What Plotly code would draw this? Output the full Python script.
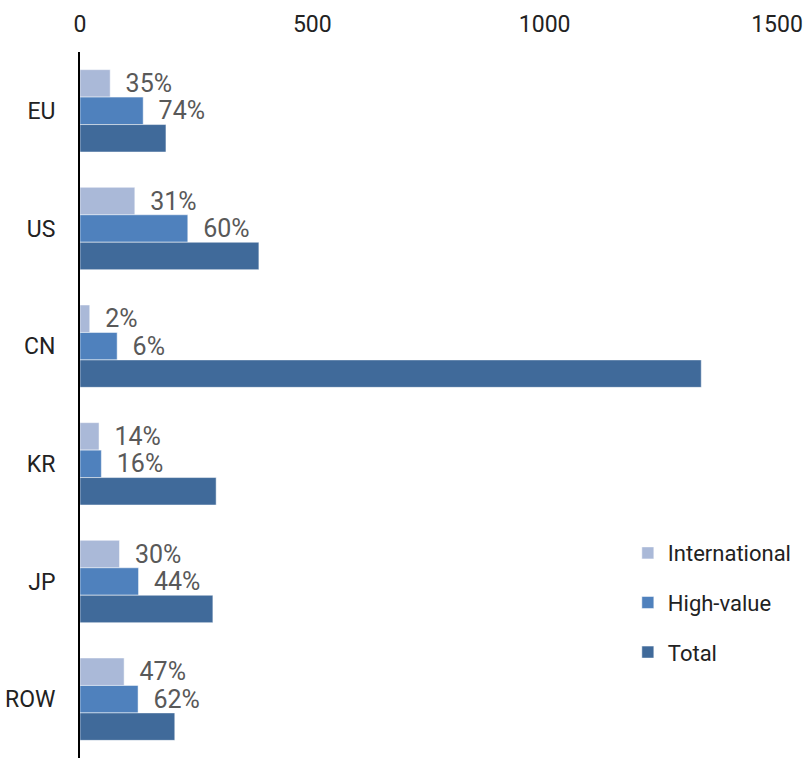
import plotly.graph_objects as go

categories = ["EU", "US", "CN", "KR", "JP", "ROW"]
international = [65, 118, 21, 41, 85, 95]
high_value = [136, 232, 80, 46, 126, 125]
total = [185, 385, 1337, 293, 286, 204]
intl_labels = ["35%", "31%", "2%", "14%", "30%", "47%"]
hv_labels = ["74%", "60%", "6%", "16%", "44%", "62%"]
x_ticks = [0, 500, 1000, 1500]

FONT = "Roboto, Arial, sans-serif"
pad = "\u00a0\u00a0"

fig = go.Figure()
fig.add_trace(go.Bar(
    y=categories, x=international, name="International", orientation="h",
    marker=dict(color="#AAB9D8", line=dict(color="white", width=0.5)),
    text=[pad + t for t in intl_labels], textposition="outside",
    textfont=dict(size=25, color="#595959", family=FONT),
    constraintext="none", cliponaxis=False, legendgroup="a",
))
fig.add_trace(go.Bar(
    y=categories, x=high_value, name="High-value", orientation="h",
    marker=dict(color="#4F81BD", line=dict(color="white", width=0.5)),
    text=[pad + t for t in hv_labels], textposition="outside",
    textfont=dict(size=25, color="#595959", family=FONT),
    constraintext="none", cliponaxis=False, legendgroup="b",
))
fig.add_trace(go.Bar(
    y=categories, x=total, name="Total", orientation="h",
    marker=dict(color="#406A9A", line=dict(color="white", width=0.5)),
    legendgroup="c",
))

fig.update_layout(
    width=807, height=758,
    margin=dict(l=80, r=30, t=52, b=0),
    barmode="group", bargap=0.3, bargroupgap=0,
    plot_bgcolor="white", paper_bgcolor="white",
    font=dict(family=FONT, size=23, color="#222222"),
    legend=dict(x=0.786, y=0.32, xanchor="left", yanchor="top",
                font=dict(size=22, color="#222222"),
                tracegroupgap=18, traceorder="grouped",
                bgcolor="rgba(0,0,0,0)"),
    xaxis=dict(range=[0, 1500], side="top", tickvals=x_ticks,
               showgrid=False, zeroline=False, showline=False,
               ticks="", ticklabelstandoff=14, automargin=False,
               tickfont=dict(size=23, color="#222222")),
    yaxis=dict(autorange="reversed", showgrid=False, zeroline=False,
               showline=True, linecolor="black", linewidth=2,
               ticks="", ticklabelstandoff=18, automargin=False,
               tickfont=dict(size=23, color="#222222")),
)

fig.write_html("out.html",
               config={"displayModeBar": False},
               post_script="document.body.style.margin='0';document.body.style.overflow='hidden';")
